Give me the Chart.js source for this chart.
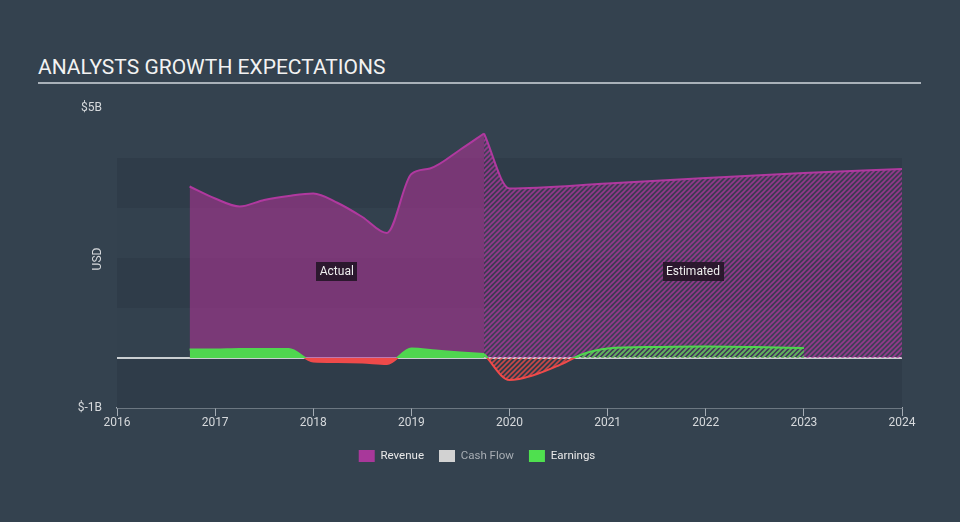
<!DOCTYPE html>
<html lang="en">
<head>
    <meta charset="UTF-8">
    <title>Analysts Growth Expectations</title>
    <script src="https://cdn.jsdelivr.net/npm/chart.js"></script>
    <style>
        html, body { margin: 0; padding: 0; background: #34424f; }
        #wrap { position: relative; width: 960px; height: 522px; }
        #title {
            position: absolute; left: 38px; top: 55px; width: 883px;
            font-family: Roboto, sans-serif; font-size: 21px; color: #f2f2f2;
            border-bottom: 2px solid #a9b1b9; padding-bottom: 3px; line-height: 24px;
        }
        canvas { position: absolute; left: 0; top: 0; }
    </style>
</head>
<body>
<div id="wrap">
    <div id="title">ANALYSTS GROWTH EXPECTATIONS</div>
    <canvas id="growthChart" width="960" height="522"></canvas>
</div>

<script>
    // values in billions of USD, x = fractional year
    const revenueActualYears = [2016.74, 2017.0, 2017.25, 2017.5, 2017.75, 2018.0, 2018.25, 2018.5, 2018.75, 2019.0, 2019.19, 2019.5, 2019.74];
    const revenueActual = [3.43, 3.19, 3.03, 3.16, 3.24, 3.29, 3.10, 2.82, 2.50, 3.68, 3.79, 4.17, 4.49];

    const revenueEstYears = [2019.74, 2020.0, 2021.0, 2022.0, 2023.0, 2024.0];
    const revenueEst = [4.49, 3.39, 3.49, 3.60, 3.70, 3.78];

    const earningsActualYears = [2016.74, 2017.0, 2017.25, 2017.5, 2017.75, 2018.0, 2018.25, 2018.5, 2018.75, 2019.0, 2019.25, 2019.5, 2019.74];
    const earningsActual = [0.17, 0.17, 0.18, 0.18, 0.18, -0.07, -0.08, -0.09, -0.12, 0.19, 0.15, 0.11, 0.08];

    const earningsEstYears = [2019.74, 2020.0, 2020.25, 2020.5, 2020.75, 2021.0, 2021.5, 2022.0, 2022.5, 2023.0];
    const earningsEst = [0.08, -0.44, -0.34, -0.15, 0.08, 0.19, 0.22, 0.23, 0.22, 0.20];

    const xTickLabels = ['2016', '2017', '2018', '2019', '2020', '2021', '2022', '2023', '2024'];
    const yTickLabels = { '5': '$5B', '-1': '$-1B' };
    const legendNames = ['Revenue', 'Cash Flow', 'Earnings'];
    const periodNames = ['Actual', 'Estimated'];
    const periodLevel = 1.74;

    const MAGENTA = '#b0399f';
    const GREEN = '#4fd64f';
    const RED = '#ef4a4a';

    function pts(xs, ys) {
        return xs.map((x, i) => ({ x: x, y: ys[i] }));
    }

    // diagonal hatch for the forecast part
    function hatch(color, base) {
        const c = document.createElement('canvas');
        c.width = 5; c.height = 5;
        const g = c.getContext('2d');
        if (base) { g.fillStyle = base; g.fillRect(0, 0, 5, 5); }
        g.strokeStyle = color;
        g.lineWidth = 1.6;
        g.beginPath();
        g.moveTo(0, 5); g.lineTo(5, 0);
        g.moveTo(-1, 1); g.lineTo(1, -1);
        g.moveTo(4, 6); g.lineTo(6, 4);
        g.stroke();
        return g.createPattern(c, 'repeat');
    }

    // green above zero, red below zero
    function signColor(pos, neg) {
        return (ctx) => {
            const chart = ctx.chart;
            const area = chart.chartArea;
            if (!area) return pos;
            const y0 = chart.scales.y.getPixelForValue(0);
            const s = Math.min(1, Math.max(0, (y0 - area.top) / (area.bottom - area.top)));
            const g = chart.ctx.createLinearGradient(0, area.top, 0, area.bottom);
            g.addColorStop(0, pos); g.addColorStop(s, pos);
            g.addColorStop(s, neg); g.addColorStop(1, neg);
            return g;
        };
    }

    const bandsPlugin = {
        id: 'bands',
        beforeDatasetsDraw(chart) {
            const { ctx, chartArea: a, scales: { y } } = chart;
            ctx.save();
            for (let v = 4; v > -1; v--) {
                const top = y.getPixelForValue(v);
                const bot = y.getPixelForValue(v - 1);
                ctx.fillStyle = (v % 2 === 0) ? '#2f3c49' : '#33414e';
                ctx.fillRect(a.left, top, a.right - a.left, bot - top);
            }
            // zero line
            const y0 = y.getPixelForValue(0);
            ctx.strokeStyle = '#ffffff';
            ctx.lineWidth = 1.5;
            ctx.beginPath();
            ctx.moveTo(a.left, y0); ctx.lineTo(a.right, y0);
            ctx.stroke();
            ctx.restore();
        }
    };

    const labelsPlugin = {
        id: 'periodLabels',
        afterDatasetsDraw(chart) {
            const { ctx, scales: { x, y } } = chart;
            const ranges = [
                [revenueActualYears[0], revenueActualYears[revenueActualYears.length - 1]],
                [revenueEstYears[0], revenueEstYears[revenueEstYears.length - 1]]
            ];
            ctx.save();
            ctx.font = '12px Roboto, sans-serif';
            ctx.textAlign = 'center';
            ctx.textBaseline = 'middle';
            ranges.forEach((r, i) => {
                const cx = x.getPixelForValue((r[0] + r[1]) / 2);
                const cy = y.getPixelForValue(periodLevel);
                const w = ctx.measureText(periodNames[i]).width + 7;
                ctx.fillStyle = 'rgba(38, 22, 40, 0.92)';
                ctx.fillRect(Math.round(cx - w / 2), Math.round(cy - 9.5), Math.round(w), 19);
                ctx.fillStyle = '#eeeeee';
                ctx.fillText(periodNames[i], cx, cy + 0.5);
            });
            // axis title
            ctx.translate(98, 259);
            ctx.rotate(-Math.PI / 2);
            ctx.fillStyle = '#d6d9dc';
            ctx.fillText('USD', 0, 0);
            ctx.restore();
        }
    };

    const ctx = document.getElementById('growthChart').getContext('2d');
    const growthChart = new Chart(ctx, {
        type: 'line',
        data: {
            datasets: [
                {
                    label: 'Earnings (est)',
                    data: pts(earningsEstYears, earningsEst),
                    borderColor: signColor(GREEN, RED),
                    borderWidth: 2,
                    fill: { target: 'origin', above: hatch('rgba(79,214,79,0.85)'), below: hatch('rgba(239,74,74,0.8)') },
                    pointRadius: 0,
                    cubicInterpolationMode: 'monotone'
                },
                {
                    label: 'Earnings',
                    data: pts(earningsActualYears, earningsActual),
                    borderColor: signColor(GREEN, RED),
                    borderWidth: 2,
                    fill: { target: 'origin', above: GREEN, below: RED },
                    pointRadius: 0,
                    cubicInterpolationMode: 'monotone'
                },
                {
                    label: 'Revenue (est)',
                    data: pts(revenueEstYears, revenueEst),
                    borderColor: MAGENTA,
                    borderWidth: 2,
                    backgroundColor: hatch('rgba(176,57,159,0.75)', 'rgba(176,57,159,0.12)'),
                    fill: 'origin',
                    pointRadius: 0,
                    cubicInterpolationMode: 'monotone'
                },
                {
                    label: 'Revenue',
                    data: pts(revenueActualYears, revenueActual),
                    borderColor: MAGENTA,
                    borderWidth: 2,
                    backgroundColor: 'rgba(178, 52, 152, 0.56)',
                    fill: 'origin',
                    pointRadius: 0,
                    cubicInterpolationMode: 'monotone'
                }
            ]
        },
        options: {
            responsive: false,
            animation: false,
            layout: { padding: { left: 52, right: 58, top: 108, bottom: 50 } },
            plugins: {
                tooltip: { enabled: false },
                legend: {
                    position: 'bottom',
                    onClick: null,
                    labels: {
                        boxWidth: 16,
                        boxHeight: 12,
                        padding: 15,
                        font: { family: 'Roboto, sans-serif', size: 11.5 },
                        generateLabels: () => legendNames.map((name, i) => ({
                            text: name,
                            fillStyle: ['#a8389a', '#d2d2d2', '#4fe04f'][i],
                            strokeStyle: 'transparent',
                            lineWidth: 0,
                            fontColor: i === 1 ? '#a7adb3' : '#e8e8e8',
                            hidden: false
                        }))
                    }
                }
            },
            scales: {
                x: {
                    type: 'linear',
                    min: 2016,
                    max: 2024,
                    afterFit: s => { s.height = 27; },
                    ticks: {
                        stepSize: 1,
                        padding: 0,
                        color: '#d6d9dc',
                        font: { family: 'Roboto, sans-serif', size: 12 },
                        callback: v => xTickLabels[v - 2016]
                    },
                    grid: { drawOnChartArea: false, drawTicks: true, tickLength: 8, color: '#a4acb4' },
                    border: { display: true, color: '#a4acb4', width: 1.5 }
                },
                y: {
                    min: -1,
                    max: 5,
                    afterFit: s => { s.width = 65; },
                    ticks: {
                        stepSize: 1,
                        padding: 15,
                        color: '#d6d9dc',
                        font: { family: 'Roboto, sans-serif', size: 12 },
                        callback: v => yTickLabels[String(v)] || ''
                    },
                    grid: { display: false, drawTicks: false },
                    border: { display: false }
                }
            }
        },
        plugins: [bandsPlugin, labelsPlugin]
    });
</script>
</body>
</html>
